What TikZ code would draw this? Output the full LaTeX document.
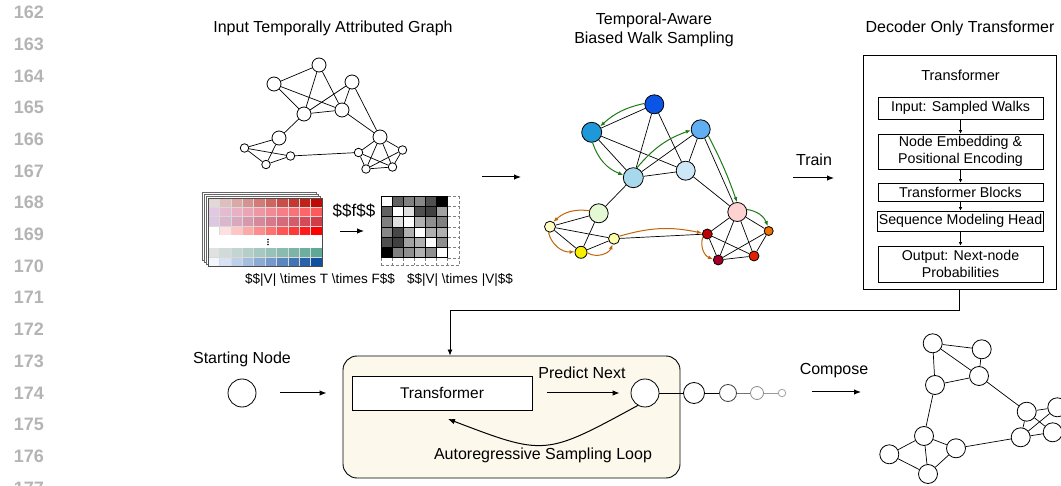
\documentclass[tikz,border=0pt]{standalone}
\usepackage{fontspec}
\setmainfont{Liberation Sans}
\usetikzlibrary{arrows.meta,calc}
\definecolor{lnum}{HTML}{B4B4B4}
\definecolor{ggreen}{HTML}{1E7A14}
\definecolor{oorange}{HTML}{C0650A}
\definecolor{loopfill}{HTML}{FCF9EC}
\definecolor{cn1}{HTML}{0A55E6}
\definecolor{cn2}{HTML}{1E98D8}
\definecolor{cn3}{HTML}{62AEF2}
\definecolor{cn4}{HTML}{A8D8EC}
\definecolor{cn5}{HTML}{CCE8F8}
\definecolor{cn6}{HTML}{E4F8D4}
\definecolor{cn7}{HTML}{FFD2D2}
\definecolor{cy1}{HTML}{FFFFC4}
\definecolor{cy2}{HTML}{F8F000}
\definecolor{cy3}{HTML}{FFFFA8}
\definecolor{cr1}{HTML}{C00000}
\definecolor{cr2}{HTML}{A00028}
\definecolor{cr3}{HTML}{E42000}
\definecolor{co1}{HTML}{F07000}
\definecolor{ra1}{HTML}{E2D8D8}\definecolor{rb1}{HTML}{BE0A00}
\definecolor{ra2}{HTML}{E2C8E2}\definecolor{rb2}{HTML}{FF5A5A}
\definecolor{ra3}{HTML}{DCC8E0}\definecolor{rb3}{HTML}{D23C48}
\definecolor{ra4}{HTML}{FFFFFF}\definecolor{rb4}{HTML}{FF0000}
\definecolor{ra5}{HTML}{E0E2E2}\definecolor{rb5}{HTML}{5EA898}
\definecolor{ra6}{HTML}{F2F6FF}\definecolor{rb6}{HTML}{1050A0}
\tikzset{
  gn/.style={circle,draw,fill=white,inner sep=0pt,line width=0.8pt},
  cn/.style={circle,draw,inner sep=0pt,line width=0.8pt},
  edge/.style={line width=0.7pt},
  arr/.style={-{Latex[length=7pt,width=5.5pt]},line width=1pt},
  sarr/.style={-{Latex[length=3.5pt,width=3.5pt]},line width=0.7pt},
  garr/.style={-{Latex[length=5pt,width=4pt]},draw=ggreen,line width=1pt},
  oarr/.style={-{Latex[length=5pt,width=4pt]},draw=oorange,line width=1pt},
  ibox/.style={draw,line width=0.8pt,minimum width=165pt,align=center,inner sep=1pt,font=\fontsize{14.2}{16.5}\selectfont},
  lbl/.style={font=\fontsize{16}{19.5}\selectfont,align=center,inner sep=0pt},
  small/.style={font=\fontsize{13.5}{16}\selectfont,inner sep=0pt},
  lineno/.style={font=\fontsize{18}{20}\selectfont\bfseries,text=lnum,anchor=east,inner sep=0pt}
}
\begin{document}
\begin{tikzpicture}[x=1pt,y=-1pt]
\useasboundingbox (0,0) rectangle (1061,486);
% line numbers
\foreach \k [count=\i from 0] in {162,...,177}
  \node[lineno] (ln\k) at (44,{12.5+31.7*\i}) {\k};

% titles
\node[lbl] (t1) at (333,28) {Input Temporally Attributed Graph};
\node[lbl] (t2) at (654,30) {Temporal-Aware\\Biased Walk Sampling};
\node[lbl] (t3) at (960,28) {Decoder Only Transformer};

% ---------- input graph ----------
\node[gn,minimum size=14pt] (tA) at (319,65) {};
\node[gn,minimum size=14pt] (tB) at (274,84) {};
\node[gn,minimum size=14pt] (tC) at (352,82) {};
\node[gn,minimum size=14pt] (tD) at (304,114) {};
\node[gn,minimum size=14pt] (tE) at (342,110) {};
\node[gn,minimum size=14pt] (tF) at (279,138) {};
\node[gn,minimum size=14pt] (tG) at (380,137) {};
\node[gn,minimum size=8.5pt] (tH) at (244.5,148) {};
\node[gn,minimum size=8.5pt] (tI) at (290.5,156) {};
\node[gn,minimum size=8.5pt] (tJ) at (266,164.5) {};
\node[gn,minimum size=8.5pt] (tK) at (358.5,152.5) {};
\node[gn,minimum size=8.5pt] (tL) at (402.5,150) {};
\node[gn,minimum size=8.5pt] (tM) at (366,169) {};
\node[gn,minimum size=8.5pt] (tN) at (392.5,167) {};
\foreach \a/\b in {tB/tA,tA/tD,tA/tE,tB/tD,tB/tE,tC/tD,tC/tE,tC/tG,tD/tE,tD/tF,tE/tG,
  tF/tH,tF/tJ,tH/tI,tH/tJ,tJ/tI,tI/tK,tG/tK,tG/tL,tG/tM,tG/tN,tK/tM,tK/tN,tL/tM,tL/tN,tM/tN}
  \draw[edge] (\a) -- (\b);

% ---------- feature tensor ----------
\foreach \k in {3,2,1}
  \draw[gray!80!black,line width=0.5pt,fill=white] ({208-1.8*\k},{198-1.8*\k}) rectangle ({322-1.8*\k},{266-1.8*\k});
\fill[white] (208,198) rectangle (322,266);
\foreach \r/\ya/\yb in {1/198/207.25,2/207.25/216.5,3/216.5/225.75,4/225.75/235,5/248/257,6/257/266}{
  \foreach \i in {0,...,9}{
    \pgfmathtruncatemacro\p{100-100*\i/9}
    \fill[ra\r!\p!rb\r] ({208+11.4*\i},\ya) rectangle ({208+11.4*(\i+1)},\yb);
  }
}
\foreach \i in {1,...,9} {
  \draw[white!70!gray,line width=0.4pt] ({208+11.4*\i},198) -- ({208+11.4*\i},235);
  \draw[white!70!gray,line width=0.4pt] ({208+11.4*\i},248) -- ({208+11.4*\i},266);
}
\foreach \y in {207.25,216.5,225.75,257}
  \draw[white!70!gray,line width=0.4pt] (208,\y) -- (322,\y);
\draw[gray!60!black,line width=0.5pt] (208,198) rectangle (322,266);
\foreach \y in {239.5,242,244.5} \fill (268,\y) circle (0.8pt);

% ---------- adjacency matrix ----------
\foreach \row [count=\j from 0] in {{100,38,50,53,31,0},{38,100,88,31,25,63},{50,88,100,69,56,50},{53,28,69,100,69,69},{31,25,63,69,100,56},{0,50,56,69,56,100}}{
  \foreach \v [count=\i from 0] in \row {
    \fill[white!\v!black] ({381+11.1*\i},{196+10.3*\j}) rectangle ({381+11.1*(\i+1)},{196+10.3*(\j+1)});
  }
}
\foreach \i in {0,...,6} {
  \draw[line width=0.7pt] ({381+11.1*\i},196) -- ({381+11.1*\i},257.8);
  \draw[line width=0.7pt] (381,{196+10.3*\i}) -- (447.6,{196+10.3*\i});
  \draw[densely dashed,line width=0.4pt,gray] (447.6,{196+10.3*\i}) -- (459,{196+10.3*\i});
  \draw[densely dashed,line width=0.4pt,gray] ({381+11.1*\i},257.8) -- ({381+11.1*\i},265);
}
\draw[densely dashed,line width=0.4pt,gray] (459,196) -- (459,265);
\draw[densely dashed,line width=0.4pt,gray] (381,265) -- (459,265);

\node[font=\fontsize{17}{20}\selectfont,inner sep=0pt] (ftxt) at (354,211) {\$\$f\$\$};
\coordinate (fa) at (340,231);
\coordinate (fb) at (364,231);
\draw[arr,line width=0.9pt] (fa) -- (fb);
\node[small] (dim1) at (320,280) {\$\$|V| \textbackslash times T \textbackslash times F\$\$};
\node[small] (dim2) at (460,280) {\$\$|V| \textbackslash times |V|\$\$};

\coordinate (s1) at (482,177);
\coordinate (s2) at (521,177);
\draw[arr] (s1) -- (s2);

% ---------- biased walk graph ----------
\node[cn,fill=cn1,minimum size=19pt] (n1) at (654.3,104.3) {};
\node[cn,fill=cn2,minimum size=20pt] (n2) at (591.7,132.3) {};
\node[cn,fill=cn3,minimum size=19pt] (n3) at (700.7,129.3) {};
\node[cn,fill=cn4,minimum size=20pt] (n4) at (633.3,177.7) {};
\node[cn,fill=cn5,minimum size=19pt] (n5) at (685.7,170.7) {};
\node[cn,fill=cn6,minimum size=19pt] (n6) at (598.7,213.3) {};
\node[cn,fill=cn7,minimum size=19pt] (n7) at (737.3,212) {};
\node[cn,fill=cy1,minimum size=11pt] (y1) at (550,226.7) {};
\node[cn,fill=cy2,minimum size=12pt] (y2) at (581,252.3) {};
\node[cn,fill=cy3,minimum size=11pt] (y3) at (614,238.7) {};
\node[cn,fill=cr1,minimum size=10pt] (r1) at (707.3,234) {};
\node[cn,fill=cr2,minimum size=10pt] (r2) at (718.3,260) {};
\node[cn,fill=cr3,minimum size=10pt] (r3) at (754,256) {};
\node[cn,fill=co1,minimum size=9pt] (o1) at (768.7,231) {};
\foreach \a/\b in {n1/n2,n1/n4,n1/n5,n2/n4,n2/n5,n3/n4,n3/n5,n3/n7,n4/n5,n4/n6,n5/n7,
  n6/y1,n6/y2,y1/y3,y1/y2,y2/y3,y3/r1,n7/r1,n7/r2,n7/r3,n7/o1,r1/r2,r1/r3,r2/r3,r2/o1,o1/r3}
  \draw[edge] (\a) -- (\b);
\draw[garr] (n1.175) to[bend right=15] (n2.35);
\draw[garr] (n2.275) to[bend right=25] (n4.165);
\draw[garr] (n4.70) to[bend left=15] (n3.185);
\draw[garr] (n3.320) to[bend left=4] (n7.92);
\draw[garr] (n7.15) to[bend left=30] (o1.100);
\draw[oarr] (n6.165) to[bend right=25] (y1.55);
\draw[oarr] (y1.255) to[bend right=40] (y2.175);
\draw[oarr] (y2.355) to[bend right=50] (y3.255);
\draw[oarr] (y3.25) to[bend left=14] (r1.170);
\draw[oarr] (r1.215) to[bend right=45] (r2.170);

% ---------- train ----------
\node[lbl] (train) at (814,160) {Train};
\coordinate (tr1) at (793,178);
\coordinate (tr2) at (834,178);
\draw[arr] (tr1) -- (tr2);

% ---------- decoder box ----------
\node[draw,line width=0.9pt,minimum width=193pt,minimum height=234pt,inner sep=0pt] (tbox) at (959.5,172) {};
\node[lbl,font=\fontsize{14.5}{16.5}\selectfont] (ttl) at (960.5,75) {Transformer};
\node[ibox,minimum height=22pt] (b1) at (960.5,108) {Input: Sampled Walks};
\node[ibox,minimum height=35pt] (b2) at (960.5,151.5) {Node Embedding \&\\Positional Encoding};
\node[ibox,minimum height=18pt] (b3) at (960.5,192) {Transformer Blocks};
\node[ibox,minimum height=20pt] (b4) at (960.5,221) {Sequence Modeling Head};
\node[ibox,minimum height=36pt] (b5) at (960.5,264) {Output: Next-node\\Probabilities};
\draw[sarr] (b1) -- (b2);
\draw[sarr] (b2) -- (b3);
\draw[sarr] (b3) -- (b4);
\draw[sarr] (b4) -- (b5);

% ---------- sampling loop ----------
\node[draw,line width=0.9pt,rounded corners=14pt,fill=loopfill,minimum width=337pt,minimum height=122pt,inner sep=0pt] (loop) at (511.5,417) {};
\draw[arr,line width=0.9pt,-{Latex[length=6pt,width=5pt]}] (tbox.south) -- ++(0,21) -| ([xshift=-61.5pt]loop.north);
\node[lbl] (stl) at (242,359) {Starting Node};
\node[gn,minimum size=28pt] (sn) at (242,393) {};
\draw[arr] ([xshift=24pt]sn.east) -- ($(sn -| loop.west)+(-16,0)$);
\node[draw,line width=0.9pt,fill=white,minimum width=180pt,minimum height=34pt,font=\fontsize{15.5}{19}\selectfont] (trf) at (442,393) {Transformer};
\node[lbl] (pn) at (582,373) {Predict Next};
\node[gn,minimum size=28pt] (nx) at (645,393) {};
\draw[arr] ([xshift=15pt]trf.east) -- ([xshift=-11pt]nx.west);
\coordinate (lend) at (448,419);
\draw[arr] (nx.240) .. controls (545,456) .. (lend);
\node[lbl] (arl) at (543,455) {Autoregressive Sampling Loop};
\node[gn,minimum size=21pt] (ch1) at (694,393) {};
\node[gn,minimum size=17pt,draw=black!75] (ch2) at (728,393) {};
\node[gn,minimum size=13pt,draw=black!45] (ch3) at (757,393) {};
\node[gn,minimum size=7.5pt,draw=black!35] (ch4) at (782,393) {};
\draw[edge] (nx) -- (ch1);
\draw[edge] (ch1) -- (ch2);
\draw[edge,draw=black!55] (ch2) -- (ch3);
\draw[edge,draw=black!40] (ch3) -- (ch4);

% ---------- compose ----------
\node[lbl] (cmp) at (834,371) {Compose};
\coordinate (cp1) at (812,392);
\coordinate (cp2) at (861,392);
\draw[arr] (cp1) -- (cp2);
\node[gn,minimum size=19pt] (c1) at (932.7,343.3) {};
\node[gn,minimum size=19pt] (c2) at (981.7,349.3) {};
\node[gn,minimum size=19pt] (c3) at (979,376) {};
\node[gn,minimum size=19pt] (c4) at (935,385) {};
\node[gn,minimum size=19pt] (c5) at (1026.7,411.7) {};
\node[gn,minimum size=19pt] (c6) at (1057.3,407.3) {};
\node[gn,minimum size=19pt] (c7) at (1052.7,432.3) {};
\node[gn,minimum size=19pt] (c8) at (1020.7,437.3) {};
\node[gn,minimum size=19pt] (c9) at (924,436) {};
\node[gn,minimum size=19pt] (c10) at (889.3,454.3) {};
\node[gn,minimum size=19pt] (c11) at (956,448.3) {};
\node[gn,minimum size=19pt] (c12) at (928,474) {};
\foreach \a/\b in {c1/c2,c1/c3,c1/c4,c2/c3,c3/c4,c3/c5,c4/c9,c9/c10,c9/c11,c9/c12,
  c10/c12,c11/c12,c11/c8,c8/c5,c5/c6,c5/c7,c8/c6,c8/c7}
  \draw[edge] (\a) -- (\b);
\end{tikzpicture}
\end{document}
